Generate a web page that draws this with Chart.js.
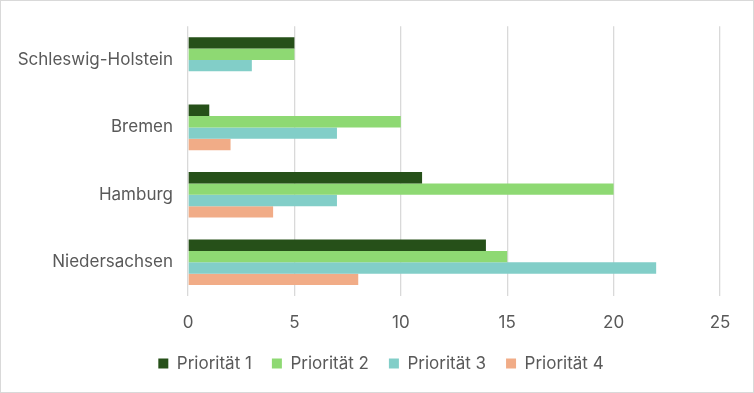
<!DOCTYPE html>
<html>
<head>
<meta charset="utf-8">
<script src="https://cdn.jsdelivr.net/npm/chart.js@4/dist/chart.umd.min.js"></script>
<style>
  html, body { margin: 0; padding: 0; background: #fff; }
  #wrap { width: 754px; height: 393px; box-sizing: border-box; border: 1px solid #d9d9d9; }
</style>
</head>
<body>
<div id="wrap"><canvas id="chart" width="752" height="391"></canvas></div>
<script>
const states = ["Schleswig-Holstein", "Bremen", "Hamburg", "Niedersachsen"];
const prio1 = [5, 1, 11, 14];
const prio2 = [5, 10, 20, 15];
const prio3 = [3, 7, 7, 22];
const prio4 = [0, 2, 4, 8];
const seriesNames = ["Priorität 1", "Priorität 2", "Priorität 3", "Priorität 4"];
const colors = ["#265019", "#8ed973", "#82cec8", "#f1ac87"];

const font = { family: "Inter, sans-serif", size: 17 };

const ctx = document.getElementById("chart").getContext("2d");
new Chart(ctx, {
  type: "bar",
  data: {
    labels: states,
    datasets: [prio1, prio2, prio3, prio4].map((vals, i) => ({
      label: seriesNames[i],
      data: vals,
      backgroundColor: colors[i],
      borderWidth: 0,
      categoryPercentage: 0.676,
      barPercentage: 1.0,
    })),
  },
  options: {
    indexAxis: "y",
    responsive: false,
    animation: false,
    layout: { padding: { top: 20.8, right: 0, left: 8, bottom: 10 } },
    scales: {
      x: {
        min: 0,
        max: 25,
        ticks: { stepSize: 5, color: "#595959", font: font, padding: 17 },
        grid: { color: "#d9d9d9", lineWidth: 1.3, drawTicks: false },
        border: { display: false },
        afterFit: (s) => { s.height = 39; },
      },
      y: {
        ticks: { color: "#595959", font: font, padding: 15 },
        grid: { display: false, drawTicks: false },
        border: { display: false },
        afterFit: (s) => { s.width = 179; },
      },
      // empty right-hand axis, only keeps room to the right of the plot
      yRight: {
        type: "linear",
        axis: "y",
        position: "right",
        ticks: { display: false },
        grid: { display: false, drawTicks: false },
        border: { display: false },
        afterFit: (s) => { s.width = 33; },
      },
    },
    plugins: {
      legend: {
        position: "bottom",
        labels: { color: "#595959", font: font, boxWidth: 10, boxHeight: 10, padding: 20 },
      },
      tooltip: { enabled: false },
    },
  },
});
</script>
</body>
</html>
